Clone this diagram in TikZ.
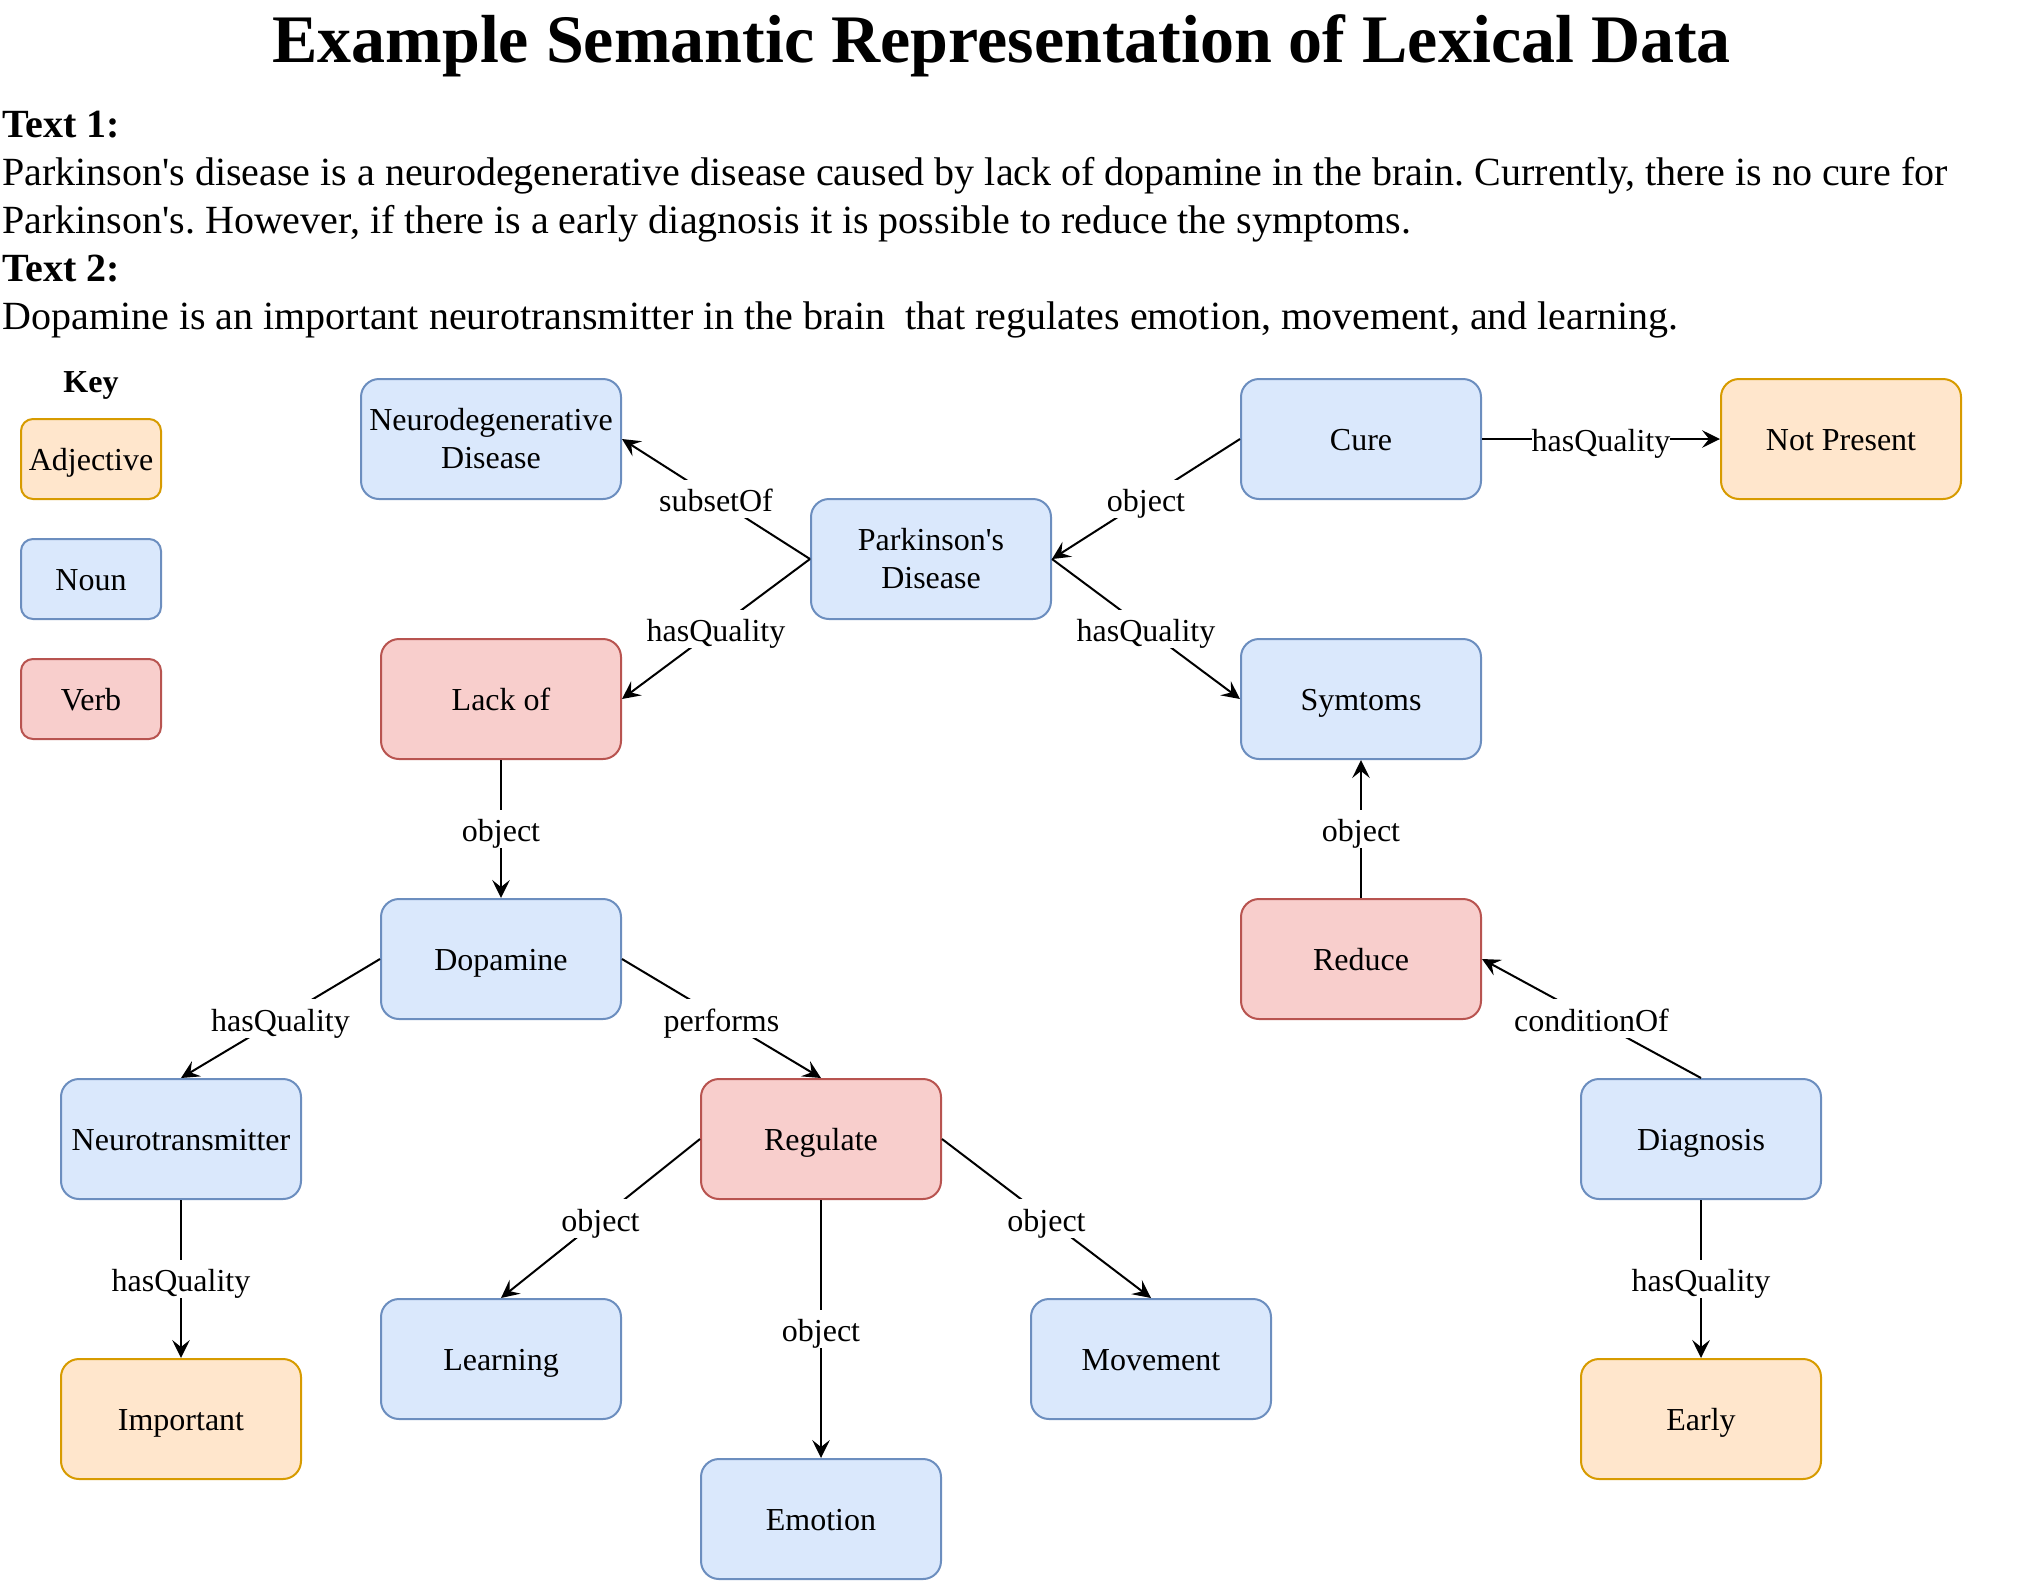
\documentclass[tikz,border=0pt]{standalone}
\usepackage{fontspec}
\setmainfont{Liberation Serif}[Ligatures=TeXOff]
\usepackage{xcolor}
\usepackage{tikz}
\usetikzlibrary{shapes,arrows.meta,positioning,calc}
\frenchspacing

\definecolor{nounfill}{HTML}{DAE8FC}
\definecolor{nounline}{HTML}{6C8EBF}
\definecolor{verbfill}{HTML}{F8CECC}
\definecolor{verbline}{HTML}{B85450}
\definecolor{adjfill}{HTML}{FFE6CC}
\definecolor{adjline}{HTML}{D79B00}

\begin{document}
\begin{tikzpicture}[x=1pt, y=-1pt,
        box/.style={rectangle, rounded corners=9pt, minimum width=120pt, minimum height=60pt, line width=1pt, inner sep=0pt, font=\fontsize{16}{19.2}\selectfont, text height=11.4pt, text depth=0pt},
        keybox/.style={box, rounded corners=6pt, minimum width=70pt, minimum height=40pt},
        noun/.style={box, fill=nounfill, draw=nounline},
        verb/.style={box, fill=verbfill, draw=verbline},
        adj/.style={box, fill=adjfill, draw=adjline},
        link/.style={-{Stealth[length=9pt, width=8.8pt, inset=3.5pt]}, line width=1pt},
        lbl/.style={fill=white, inner xsep=0pt, inner ysep=0pt, font=\fontsize{16}{19.2}\selectfont, text height=16pt, text depth=3.2pt},
        body/.style={anchor=base west, inner sep=0pt, font=\fontsize{20}{24}\selectfont}]
        \useasboundingbox (0,0) rectangle (1012,790);

        % Title and texts
        \node[anchor=base, inner sep=0pt, font=\fontsize{34}{40}\selectfont\bfseries] (title) at (500.8,31) {Example Semantic Representation of Lexical Data};
        \node[body] (head1) at (1,68.5) {\textbf{Text 1:}};
        \node[body] (line1) at (1,92.5) {Parkinson's disease is a neurodegenerative disease caused by lack of dopamine in the brain. Currently, there is no cure for};
        \node[body] (line2) at (1,116.5) {Parkinson's. However, if there is a early diagnosis it is possible to reduce the symptoms.};
        \node[body] (head2) at (1,140.5) {\textbf{Text 2:}};
        \node[body] (line3) at (1,164.5) {Dopamine is an important neurotransmitter in the brain\ \ that regulates emotion, movement, and learning.};

        % Key
        \node[anchor=base, inner sep=0pt, font=\fontsize{16}{19.2}\selectfont\bfseries] (keytitle) at (45.5,196.3) {Key};
        \node[adj, keybox] (keyadj) at (45.5,229.5) {Adjective};
        \node[noun, keybox] (keynoun) at (45.5,289.5) {Noun};
        \node[verb, keybox] (keyverb) at (45.5,349.5) {Verb};

        % Text 1
        \node[noun, minimum width=130pt, align=center, text height=29.4pt] (neuro) at (245.5,219.5) {Neurodegenerative\\Disease};
        \node[noun] (cure) at (680.5,219.5) {Cure};
        \node[adj] (notpresent) at (920.5,219.5) {Not Present};
        \node[noun, align=center, text height=29.4pt] (park) at (465.5,279.5) {Parkinson's\\Disease};
        \node[verb] (lack) at (250.5,349.5) {Lack of};
        \node[noun] (symptoms) at (680.5,349.5) {Symtoms};
        \node[noun] (dopamine) at (250.5,479.5) {Dopamine};
        \node[verb] (reduce) at (680.5,479.5) {Reduce};
        \node[noun] (diagnosis) at (850.5,569.5) {Diagnosis};
        \node[adj] (early) at (850.5,709.5) {Early};

        % Text 2
        \node[noun] (neurotrans) at (90.5,569.5) {Neurotransmitter};
        \node[verb] (regulate) at (410.5,569.5) {Regulate};
        \node[noun] (learning) at (250.5,679.5) {Learning};
        \node[noun] (movement) at (575.5,679.5) {Movement};
        \node[adj] (important) at (90.5,709.5) {Important};
        \node[noun] (emotion) at (410.5,759.5) {Emotion};

        % Relations
        \draw[link] (park.west) -- node[lbl] {subsetOf} (neuro.east);
        \draw[link] (park.west) -- node[lbl] {hasQuality} (lack.east);
        \draw[link] (cure.west) -- node[lbl] {object} (park.east);
        \draw[link] (park.east) -- node[lbl] {hasQuality} (symptoms.west);
        \draw[link] (cure.east) -- node[lbl] {hasQuality} (notpresent.west);
        \draw[link] (lack.south) -- node[lbl] {object} (dopamine.north);
        \draw[link] (reduce.north) -- node[lbl] {object} (symptoms.south);
        \draw[link] (diagnosis.north) -- node[lbl] {conditionOf} (reduce.east);
        \draw[link] (diagnosis.south) -- node[lbl] {hasQuality} (early.north);
        \draw[link] (dopamine.west) -- node[lbl] {hasQuality} (neurotrans.north);
        \draw[link] (dopamine.east) -- node[lbl] {performs} (regulate.north);
        \draw[link] (neurotrans.south) -- node[lbl] {hasQuality} (important.north);
        \draw[link] (regulate.west) -- node[lbl] {object} (learning.north);
        \draw[link] (regulate.south) -- node[lbl] {object} (emotion.north);
        \draw[link] (regulate.east) -- node[lbl] {object} (movement.north);
    \end{tikzpicture}
\end{document}
